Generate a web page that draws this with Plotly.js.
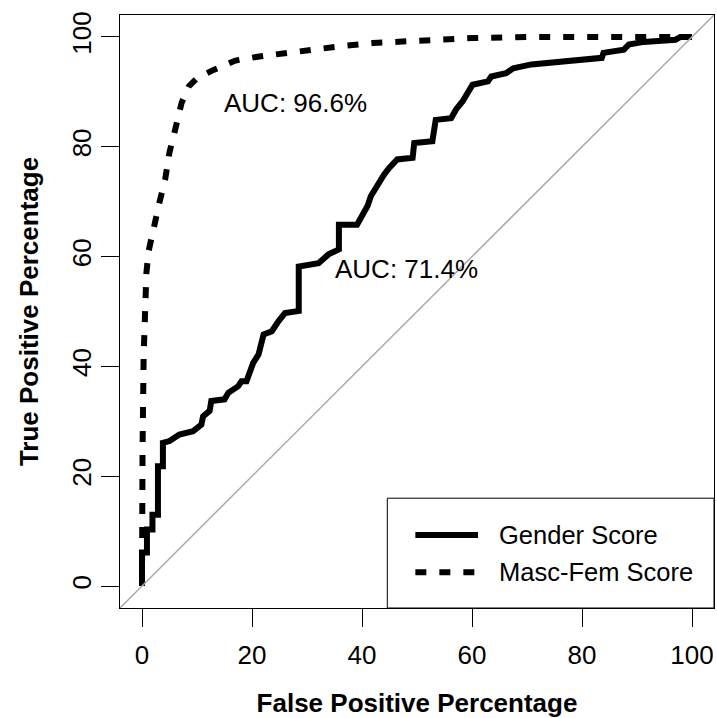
<!DOCTYPE html>
<html>
<head>
<meta charset="utf-8">
<script src="https://cdn.plot.ly/plotly-3.0.1.min.js"></script>
<style>html,body{margin:0;padding:0;background:#fff;}#chart{width:717px;height:718px;}</style>
</head>
<body>
<div id="chart"></div>
<script>
// Gender Score ROC (false positive %, true positive %)
var genderFPR = [0,0,0.9,0.9,1.9,1.9,2.9,2.9,3.8,3.8,5.0,6.8,9.3,10.8,11.1,12.3,12.6,15.0,15.7,17.5,18.1,19.0,20.2,21.2,22.1,23.6,24.8,26.0,28.5,28.5,32.1,33.9,35.8,35.8,39.1,40.0,41.0,41.6,42.8,44.0,44.9,46.4,49.2,49.5,52.8,53.4,56.2,57.1,58.3,59.2,60.1,62.9,63.5,66.2,67.5,70.8,74.8,79.0,83.6,83.9,87.6,88.5,91.2,97.0,97.9,100];
var genderTPR = [0,6.1,6.1,10.3,10.3,13.0,13.0,21.8,21.8,26.1,26.4,27.6,28.2,29.4,30.9,31.9,33.7,34.0,35.2,36.4,37.3,37.3,40.6,42.2,45.8,46.4,48.2,49.7,50.1,58.2,58.8,60.4,61.3,65.8,65.8,67.3,69.2,71.0,73.1,74.9,76.1,77.7,78.0,80.7,81.0,84.9,85.2,86.8,88.3,90.1,91.3,91.9,92.8,93.4,94.3,95.0,95.3,95.6,96.2,97.1,97.7,98.6,99.1,99.5,100,100];
// Masc-Fem Score ROC
var mfFPR = [0,0,0.1,0.3,0.5,0.8,1.2,1.8,2.5,3.2,4.2,5.0,6.0,7.2,8.5,10,13,17,21,26,31,36,42,50,60,70,80,90,95,100];
var mfTPR = [0,10,25,42,52,57,61,64,67,70,74,79,83,88,91,92.5,94,95.7,96.4,97.1,97.7,98.3,98.9,99.3,99.8,100,100,100,100,100];

var seriesNames = ["Gender Score", "Masc-Fem Score"];
var aucLabels = ["AUC: 71.4%", "AUC: 96.6%"];
var tickVals = [0,20,40,60,80,100];
var axisRange = [-4, 104];

var FONT = "Liberation Sans, Arial, sans-serif";
var dotDash = "11px,13px";

var traces = [
  {x: genderFPR, y: genderTPR, mode: "lines", name: seriesNames[0],
   line: {color: "#000", width: 6, shape: "linear"}, hoverinfo: "skip"},
  {x: mfFPR, y: mfTPR, mode: "lines", name: seriesNames[1],
   line: {color: "#000", width: 6, dash: dotDash}, hoverinfo: "skip"}
];

// legend placement in data coordinates
var legX0 = 44.6, legYTop = 16.0;
var legLine = [49.7, 61.1];
var legRows = [9.3, 2.5];
var legTextX = 64.5;

var shapes = [
  {type: "line", xref: "x", yref: "y", x0: axisRange[0], y0: axisRange[0], x1: axisRange[1], y1: axisRange[1],
   line: {color: "#aaaaaa", width: 1.5}, layer: "above"},
  {type: "rect", xref: "x", yref: "y", x0: legX0, x1: axisRange[1], y0: axisRange[0], y1: legYTop,
   line: {color: "#000", width: 1}, fillcolor: "#fff", layer: "above"},
  {type: "line", xref: "x", yref: "y", x0: legLine[0], x1: legLine[1], y0: legRows[0], y1: legRows[0],
   line: {color: "#000", width: 6}, layer: "above"},
  {type: "line", xref: "x", yref: "y", x0: legLine[0], x1: legLine[1], y0: legRows[1], y1: legRows[1],
   line: {color: "#000", width: 6, dash: dotDash}, layer: "above"}
];

var annotations = [
  {x: 34.8, y: 57.7, xref: "x", yref: "y", text: aucLabels[0], showarrow: false, xanchor: "left", yanchor: "middle",
   font: {family: FONT, size: 26, color: "#000"}},
  {x: 14.5, y: 87.9, xref: "x", yref: "y", text: aucLabels[1], showarrow: false, xanchor: "left", yanchor: "middle",
   font: {family: FONT, size: 26, color: "#000"}},
  {x: legTextX, y: legRows[0], xref: "x", yref: "y", text: seriesNames[0], showarrow: false, xanchor: "left", yanchor: "middle",
   font: {family: FONT, size: 25.5, color: "#000"}},
  {x: legTextX, y: legRows[1], xref: "x", yref: "y", text: seriesNames[1], showarrow: false, xanchor: "left", yanchor: "middle",
   font: {family: FONT, size: 25.5, color: "#000"}}
];

var layout = {
  width: 717, height: 718,
  margin: {l: 120, r: 3, t: 15, b: 110, pad: 0},
  paper_bgcolor: "#fff", plot_bgcolor: "#fff",
  showlegend: false,
  font: {family: FONT, size: 26, color: "#000"},
  xaxis: {
    range: axisRange, tickmode: "array", tickvals: tickVals, ticktext: tickVals.map(String),
    showgrid: false, zeroline: false, showline: true, linecolor: "#000", linewidth: 1, mirror: true,
    ticks: "outside", ticklen: 18, tickwidth: 1, tickcolor: "#000", ticklabelstandoff: 6,
    tickfont: {family: FONT, size: 26, color: "#000"},
    title: {text: "<b>False Positive Percentage</b>", font: {family: FONT, size: 26, color: "#000"}, standoff: 24}
  },
  yaxis: {
    range: axisRange, tickmode: "array", tickvals: tickVals, ticktext: tickVals.map(String),
    showgrid: false, zeroline: false, showline: true, linecolor: "#000", linewidth: 1, mirror: true,
    ticks: "outside", ticklen: 18, tickwidth: 1, tickcolor: "#000", tickangle: -90,
    tickfont: {family: FONT, size: 26, color: "#000"},
    title: {text: "<b>True Positive Percentage</b>", font: {family: FONT, size: 26, color: "#000"}, standoff: 20}
  },
  shapes: shapes,
  annotations: annotations
};

Plotly.newPlot("chart", traces, layout, {staticPlot: true, displayModeBar: false});
</script>
</body>
</html>
